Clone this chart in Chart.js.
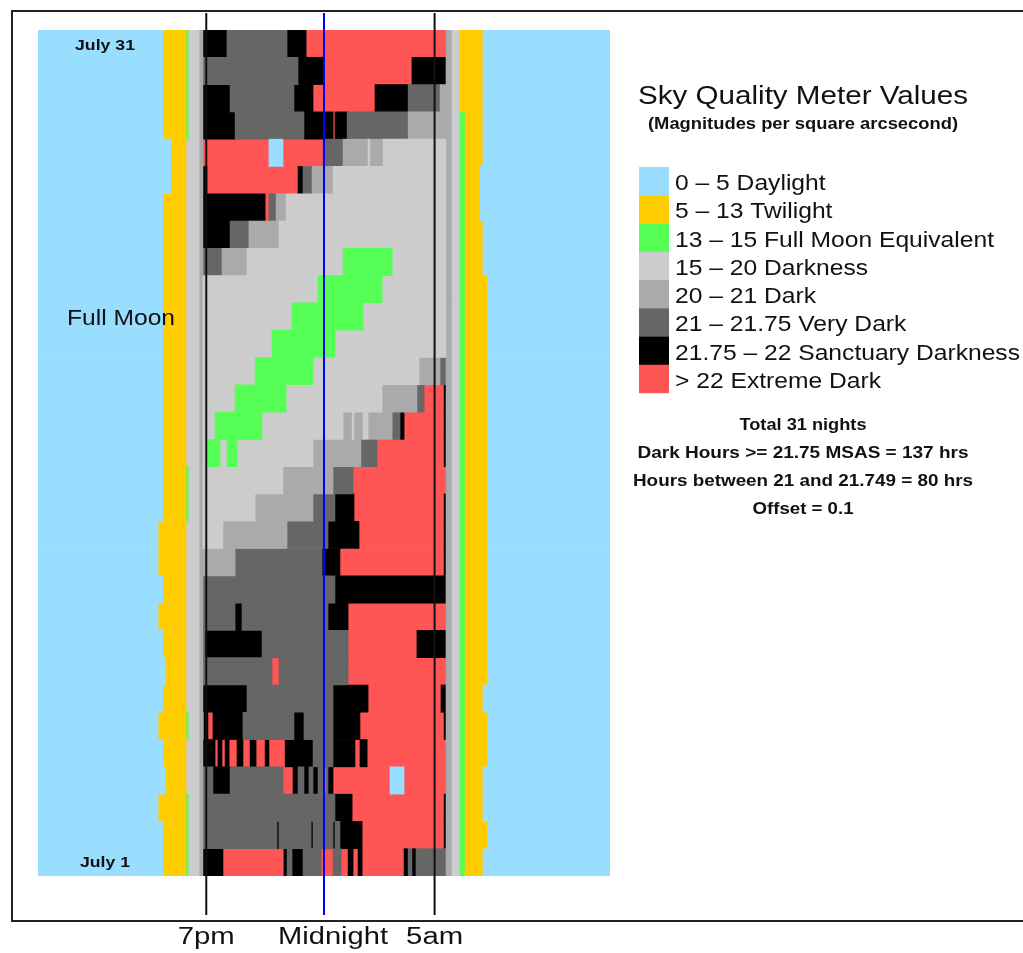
<!DOCTYPE html>
<html>
<head>
<meta charset="utf-8">
<title>Sky Quality Meter Values - July</title>
<script src="https://cdn.jsdelivr.net/npm/chart.js@4/dist/chart.umd.min.js"></script>
<style>
  html, body { margin: 0; padding: 0; background: #fff; }
  #wrap { width: 1023px; height: 953px; position: relative; }
</style>
</head>
<body>
<div id="wrap"><canvas id="sqmChart"></canvas></div>
<script>
// SQM classes (legend order)
const levels = [
  '0 \u2013 5 Daylight',
  '5 \u2013 13 Twilight',
  '13 \u2013 15 Full Moon Equivalent',
  '15 \u2013 20 Darkness',
  '20 \u2013 21 Dark',
  '21 \u2013 21.75 Very Dark',
  '21.75 \u2013 22 Sanctuary Darkness',
  '> 22 Extreme Dark'
];
const levelColors = ['#99ddff', '#ffcc00', '#55ff55', '#cccccc', '#aaaaaa', '#666666', '#000000', '#ff5555'];

const nightLabels = Array.from({ length: 31 }, (_, i) => 'July ' + (i + 1));

// hours after noon, July 1 .. July 31
const duskStart = [5.25, 5.25, 5.04, 5.36, 5.25, 5.04, 5.25, 5.36, 5.25, 5.04, 5.25, 5.04, 5.04, 5.25, 5.25, 5.25,
  5.25, 5.25, 5.25, 5.25, 5.25, 5.25, 5.25, 5.25, 5.25, 5.58, 5.58, 5.25, 5.25, 5.25, 5.25];
const dawnEnd = [18.67, 18.87, 18.67, 18.67, 18.87, 18.87, 18.67, 18.87, 18.87, 18.87, 18.87, 18.87, 18.87, 18.87, 18.87, 18.87,
  18.87, 18.87, 18.87, 18.87, 18.87, 18.87, 18.67, 18.67, 18.55, 18.55, 18.67, 18.67, 18.67, 18.67, 18.67];
const duskGreen = [1, 1, 1, 0, 0, 1, 0, 0, 0, 0, 0, 0, 0, 1, 1, 0, 0, 0, 0, 0, 0, 0, 0, 0, 0, 0, 0, 1, 1, 1, 1];
const dawnGreen = [1, 1, 1, 1, 1, 1, 1, 1, 1, 1, 1, 1, 1, 1, 1, 1, 1, 1, 1, 1, 1, 1, 1, 1, 1, 1, 1, 1, 0, 0, 0];

// [level, start hour] runs through the night, July 1 .. July 31
const nightRuns = [
  [[6, 6.92], [7, 7.76], [6, 10.32], [5, 10.45], [6, 10.66], [5, 11.12], [7, 11.88], [5, 12.38], [7, 12.72], [6, 13.01], [7, 13.22], [6, 13.43], [7, 13.60], [6, 15.36], [5, 15.53], [6, 15.69], [5, 15.86]],
  [[5, 6.92], [6, 10.03], [5, 10.11], [6, 11.46], [5, 11.54], [6, 12.38], [5, 12.46], [6, 12.67], [7, 13.60], [6, 17.04]],
  [[5, 6.92], [6, 12.46], [7, 13.18], [6, 17.04]],
  [[5, 6.92], [6, 7.34], [5, 8.06], [7, 10.28], [6, 10.70], [5, 10.91], [6, 11.16], [5, 11.37], [6, 11.54], [5, 11.75], [7, 11.96], [5, 12.09], [6, 12.17], [7, 12.38], [0, 14.77], [7, 15.36]],
  [[6, 6.92], [7, 7.43], [6, 7.55], [7, 7.72], [6, 7.85], [7, 8.02], [6, 8.35], [7, 8.60], [6, 8.90], [7, 9.15], [6, 9.53], [7, 9.69], [6, 10.37], [5, 11.54], [6, 12.38], [7, 13.30], [6, 13.51], [7, 13.81]],
  [[7, 6.92], [6, 6.97], [7, 7.13], [6, 7.34], [5, 8.60], [6, 10.74], [5, 11.16], [6, 12.38], [7, 13.51], [6, 17.04]],
  [[6, 6.92], [5, 8.77], [6, 12.38], [7, 13.85], [6, 16.91]],
  [[5, 6.92], [7, 9.82], [5, 10.11], [7, 13.01]],
  [[5, 6.92], [6, 7.01], [5, 9.40], [7, 13.01], [6, 15.90]],
  [[5, 6.92], [6, 8.27], [5, 8.56], [6, 12.17], [7, 13.01]],
  [[5, 6.92], [6, 12.46]],
  [[4, 6.92], [5, 8.27], [6, 11.92], [7, 12.67], [6, 17.04]],
  [[3, 6.92], [4, 7.76], [5, 10.45], [6, 12.17], [7, 13.47], [6, 17.04]],
  [[3, 6.92], [4, 9.11], [5, 11.54], [6, 12.46], [7, 13.26], [6, 17.04]],
  [[3, 6.92], [4, 10.28], [5, 12.38], [7, 13.22]],
  [[3, 6.92], [2, 7.13], [3, 7.64], [2, 7.93], [3, 8.35], [4, 11.54], [5, 13.55], [7, 14.23], [6, 17.04]],
  [[3, 6.92], [2, 7.43], [3, 9.40], [4, 12.80], [3, 13.18], [4, 13.26], [3, 13.64], [4, 13.85], [5, 14.86], [6, 15.19], [7, 15.36], [6, 17.04]],
  [[3, 6.92], [2, 8.27], [3, 10.41], [4, 14.44], [5, 15.90], [7, 16.20], [6, 17.04]],
  [[3, 6.92], [2, 9.11], [3, 11.54], [4, 15.99], [5, 16.87]],
  [[3, 6.92], [2, 9.82], [3, 12.46]],
  [[3, 6.92], [2, 10.66], [3, 13.64]],
  [[3, 6.92], [2, 11.75], [3, 14.44]],
  [[5, 6.92], [4, 7.72], [3, 8.77], [2, 12.80], [3, 14.86]],
  [[6, 6.92], [5, 8.06], [4, 8.85], [3, 10.11]],
  [[6, 6.92], [7, 9.53], [5, 9.69], [4, 9.99], [3, 10.41]],
  [[6, 6.92], [7, 7.09], [6, 10.91], [5, 11.12], [4, 11.50], [3, 12.38]],
  [[7, 6.92], [0, 9.69], [7, 10.28], [5, 11.96], [4, 12.80], [3, 13.85], [4, 13.93], [3, 14.48]],
  [[6, 6.92], [5, 8.27], [6, 11.16], [7, 12.38], [6, 12.46], [5, 12.97], [4, 15.53]],
  [[6, 6.92], [5, 8.06], [6, 10.74], [7, 11.54], [6, 14.14], [5, 15.53], [4, 16.87]],
  [[5, 6.92], [6, 10.91], [7, 11.96], [6, 15.69]],
  [[6, 6.92], [5, 7.93], [6, 10.45], [7, 11.25]]
];

const markerLabels = ['7pm', 'Midnight', '5am'];
const markerHours = [7.06, 12.0, 16.64];
const fullMoonNight = 'July 21';
const summaryLines = [
  'Total 31 nights',
  'Dark Hours >= 21.75 MSAS = 137 hrs',
  'Hours between 21 and 21.749 = 80 hrs',
  'Offset = 0.1'
];

// turn runs into floating bar segments, one list per level
const segments = levels.map(() => []);
nightLabels.forEach((night, n) => {
  const runs = [[0, 0], [1, duskStart[n]]];
  if (duskGreen[n]) runs.push([2, 6.21], [3, 6.30]);
  else runs.push([3, 6.21]);
  runs.push([4, 6.76]);
  nightRuns[n].forEach(r => runs.push(r));
  runs.push([4, 17.12], [3, 17.37]);
  if (dawnGreen[n]) runs.push([2, 17.71], [1, 17.92]);
  else runs.push([1, 17.71]);
  runs.push([0, dawnEnd[n]]);
  runs.forEach((r, i) => {
    const end = i + 1 < runs.length ? runs[i + 1][1] : 24;
    segments[r[0]].push({ y: night, x: [r[1], end] });
  });
});

const FONT = "'Liberation Sans', Arial, Helvetica, sans-serif";

function fitText(ctx, str, x, y, font, width, align) {
  ctx.save();
  ctx.font = font;
  const w = ctx.measureText(str).width;
  ctx.translate(x, y);
  ctx.scale(width / w, 1);
  ctx.textAlign = align;
  ctx.textBaseline = 'alphabetic';
  ctx.fillText(str, 0, 0);
  ctx.restore();
}

const sqmDecor = {
  id: 'sqmDecor',
  afterDatasetsDraw(chart) {
    const { ctx } = chart;
    const xs = chart.scales.x;
    const ys = chart.scales.y;

    ctx.save();
    // frame
    ctx.strokeStyle = '#222';
    ctx.lineWidth = 2;
    ctx.strokeRect(12, 11, 1100, 910);

    // time markers
    const markerColors = ['#111', '#0000ff', '#111'];
    markerHours.forEach((h, i) => {
      const px = xs.getPixelForValue(h);
      ctx.beginPath();
      ctx.strokeStyle = markerColors[i];
      ctx.lineWidth = 2;
      ctx.moveTo(px, 13);
      ctx.lineTo(px, 915);
      ctx.stroke();
    });

    ctx.fillStyle = '#111';
    const labelShift = [0, 9, 0];
    const labelWidth = [57, 110, 57];
    markerLabels.forEach((t, i) => {
      fitText(ctx, t, xs.getPixelForValue(markerHours[i]) + labelShift[i], 944, '23px ' + FONT, labelWidth[i], 'center');
    });

    // night labels inside the daylight band
    const last = nightLabels.length - 1;
    fitText(ctx, nightLabels[last], 105, ys.getPixelForValue(last) + 6, 'bold 15px ' + FONT, 60, 'center');
    fitText(ctx, nightLabels[0], 105, ys.getPixelForValue(0) + 5, 'bold 15px ' + FONT, 50, 'center');
    fitText(ctx, 'Full Moon', 67, ys.getPixelForValue(nightLabels.indexOf(fullMoonNight)) + 8, '22px ' + FONT, 108, 'left');

    // legend
    fitText(ctx, 'Sky Quality Meter Values', 638, 104, '25px ' + FONT, 330, 'left');
    fitText(ctx, '(Magnitudes per square arcsecond)', 648, 129, 'bold 16px ' + FONT, 310, 'left');

    ctx.font = '22px ' + FONT;
    const longest = Math.max(...levels.map(l => ctx.measureText(l).width));
    const sx = 345 / longest;
    levels.forEach((l, i) => {
      const top = 167 + i * 28.25;
      ctx.fillStyle = levelColors[i];
      ctx.fillRect(639, top, 30, 28.5);
      ctx.fillStyle = '#111';
      ctx.save();
      ctx.font = '22px ' + FONT;
      ctx.translate(675, top + 23);
      ctx.scale(sx, 1);
      ctx.textAlign = 'left';
      ctx.fillText(l, 0, 0);
      ctx.restore();
    });

    const summaryWidth = [127, 331, 340, 101];
    summaryLines.forEach((s, i) => {
      fitText(ctx, s, 803, 430 + i * 28, 'bold 16px ' + FONT, summaryWidth[i], 'center');
    });
    ctx.restore();
  }
};

new Chart(document.getElementById('sqmChart').getContext('2d'), {
  type: 'bar',
  data: {
    labels: nightLabels,
    datasets: levels.map((label, i) => ({
      label: label,
      data: segments[i],
      backgroundColor: levelColors[i],
      borderWidth: 0,
      grouped: false,
      barPercentage: 1,
      categoryPercentage: 1
    }))
  },
  options: {
    indexAxis: 'y',
    responsive: true,
    maintainAspectRatio: false,
    animation: false,
    layout: { padding: { left: 38, top: 30, right: 413, bottom: 77 } },
    scales: {
      x: { type: 'linear', min: 0, max: 24, display: false },
      y: { type: 'category', reverse: true, offset: true, display: false }
    },
    plugins: {
      legend: { display: false },
      tooltip: { enabled: false }
    }
  },
  plugins: [sqmDecor]
});
</script>
</body>
</html>
